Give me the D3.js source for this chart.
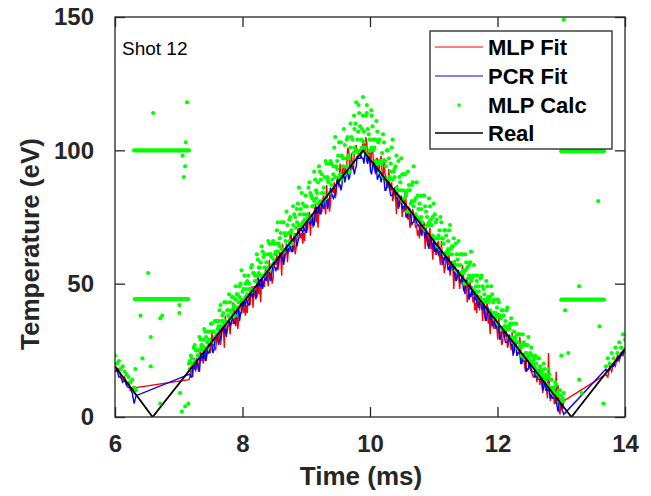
<!DOCTYPE html>
<html>
<head>
<meta charset="utf-8">
<script src="https://cdn.jsdelivr.net/npm/d3@7"></script>
<style>
  body { margin: 0; background: #fff; }
  svg { display: block; }
</style>
</head>
<body>
<svg id="chart" width="651" height="496"></svg>
<script>
// ---- data ----
const xTicks = [6, 8, 10, 12, 14];
const yTicks = [0, 50, 100, 150];
const legendLabels = ["MLP Fit", "PCR Fit", "MLP Calc", "Real"];

// "Real" temperature ramp (vertices)
const realTime = [6, 6.59, 9.89, 13.16, 14];
const realTemp = [19, 0, 100, 0, 25.7];

// first set of samples (fits + MLP calculation)
const sampleTime = [
  6.00, 6.03, 6.06, 6.09, 6.12, 6.15, 6.18, 6.21, 6.24, 6.27, 6.30, 6.33,
  7.16, 7.19, 7.22, 7.25, 7.28, 7.31, 7.34, 7.37, 7.40, 7.43,
  7.46, 7.49, 7.52, 7.55, 7.58, 7.61, 7.64, 7.67, 7.70, 7.73,
  7.76, 7.79, 7.82, 7.85, 7.88, 7.91, 7.94, 7.97, 8.00, 8.03,
  8.06, 8.09, 8.12, 8.15, 8.18, 8.21, 8.24, 8.27, 8.30, 8.33,
  8.36, 8.39, 8.42, 8.45, 8.48, 8.51, 8.54, 8.57, 8.60, 8.63,
  8.66, 8.69, 8.72, 8.75, 8.78, 8.81, 8.84, 8.87, 8.90, 8.93,
  8.96, 8.99, 9.02, 9.05, 9.08, 9.11, 9.14, 9.17, 9.20, 9.23,
  9.26, 9.29, 9.32, 9.35, 9.38, 9.41, 9.44, 9.47, 9.50, 9.53,
  9.56, 9.59, 9.62, 9.65, 9.68, 9.71, 9.74, 9.77, 9.80, 9.83,
  9.86, 9.89, 9.92, 9.95, 9.98, 10.01, 10.04, 10.07, 10.10, 10.13,
  10.16, 10.19, 10.22, 10.25, 10.28, 10.31, 10.34, 10.37, 10.40, 10.43,
  10.46, 10.49, 10.52, 10.55, 10.58, 10.61, 10.64, 10.67, 10.70, 10.73,
  10.76, 10.79, 10.82, 10.85, 10.88, 10.91, 10.94, 10.97, 11.00, 11.03,
  11.06, 11.09, 11.12, 11.15, 11.18, 11.21, 11.24, 11.27, 11.30, 11.33,
  11.36, 11.39, 11.42, 11.45, 11.48, 11.51, 11.54, 11.57, 11.60, 11.63,
  11.66, 11.69, 11.72, 11.75, 11.78, 11.81, 11.84, 11.87, 11.90, 11.93,
  11.96, 11.99, 12.02, 12.05, 12.08, 12.11, 12.14, 12.17, 12.20, 12.23,
  12.26, 12.29, 12.32, 12.35, 12.38, 12.41, 12.44, 12.47, 12.50, 12.53,
  12.56, 12.59, 12.62, 12.65, 12.68, 12.71, 12.74, 12.77, 12.80, 12.83,
  12.86, 12.89, 12.92, 12.95, 12.98, 13.01, 13.04,
  13.70, 13.73, 13.76, 13.79, 13.82, 13.85, 13.88, 13.91, 13.94, 13.97, 14.00
];

const mlpFit = [
  18, 17, 18, 15, 14, 15, 12, 13, 10, 11, 9, 11,
  14, 19, 15, 22, 20, 17, 26, 22, 25, 21,
  27, 24, 32, 27, 25, 31, 34, 30, 33, 38,
  32, 36, 35, 43, 36, 41, 36, 44, 42, 42,
  42, 46, 42, 49, 47, 44, 53, 49, 52, 49,
  55, 52, 59, 54, 52, 58, 61, 57, 60, 65,
  59, 64, 63, 70, 63, 68, 63, 71, 69, 69,
  69, 74, 70, 77, 74, 71, 80, 76, 79, 76,
  82, 79, 87, 82, 80, 85, 88, 84, 90, 95,
  89, 94, 93, 101, 94, 99, 93, 101, 99, 99,
  99, 104, 98, 103, 99, 94, 101, 96, 97, 92,
  96, 91, 97, 90, 86, 87, 88, 82, 83, 87,
  79, 82, 79, 85, 76, 79, 72, 78, 74, 72,
  70, 74, 68, 73, 69, 64, 71, 65, 66, 61,
  65, 60, 66, 60, 56, 60, 61, 55, 56, 59,
  51, 54, 51, 57, 48, 52, 45, 51, 47, 45,
  43, 46, 40, 45, 41, 36, 43, 38, 39, 34,
  38, 33, 39, 32, 28, 32, 33, 27, 28, 32,
  24, 27, 24, 30, 21, 24, 17, 23, 19, 17,
  15, 19, 13, 18, 14, 9, 16, 10, 24, 6,
  10, 5, 17, 12, 1, 5, 6,
  16, 15, 19, 17, 20, 19, 23, 21, 24, 23, 26
];

const pcrFit = [
  17, 18, 15, 15, 13, 14, 12, 11, 11, 9, 5, 8,
  16, 15, 19, 18, 22, 18, 22, 22, 25, 22,
  24, 27, 27, 25, 31, 29, 29, 32, 34, 33,
  33, 37, 35, 37, 35, 40, 39, 39, 44, 43,
  44, 42, 46, 45, 49, 45, 49, 49, 52, 50,
  52, 55, 54, 52, 58, 56, 56, 59, 61, 60,
  60, 65, 63, 64, 62, 67, 66, 66, 71, 70,
  71, 70, 74, 73, 76, 72, 76, 76, 79, 77,
  79, 82, 82, 80, 86, 83, 83, 86, 88, 87,
  87, 92, 90, 92, 90, 95, 93, 93, 98, 97,
  98, 97, 99, 96, 98, 92, 94, 93, 94, 90,
  90, 91, 89, 85, 89, 85, 83, 84, 84, 82,
  80, 83, 79, 79, 75, 78, 75, 73, 76, 73,
  72, 70, 72, 69, 71, 65, 67, 65, 66, 62,
  62, 63, 61, 58, 62, 58, 56, 57, 57, 54,
  52, 55, 51, 51, 47, 51, 48, 46, 49, 46,
  45, 42, 44, 41, 43, 37, 39, 38, 39, 35,
  35, 36, 34, 30, 34, 30, 28, 29, 29, 27,
  25, 28, 24, 24, 20, 23, 20, 18, 21, 18,
  17, 15, 17, 14, 16, 10, 12, 10, 11, 7,
  7, 8, 6, 2, 7, 3, 1,
  18, 17, 18, 19, 19, 21, 21, 22, 23, 24, 25
];

const mlpCalc = [
  23, 20, 21, 18, 19, 17, 16, 15, 13, 14, 11, 10,
  20, 23, 20, 27, 25, 23, 29, 27, 33, 30,
  26, 32, 35, 32, 36, 33, 40, 36, 39, 36,
  40, 46, 40, 45, 38, 46, 43, 50, 47, 53,
  48, 53, 48, 57, 54, 51, 59, 56, 64, 60,
  54, 61, 65, 60, 66, 61, 70, 65, 69, 63,
  69, 77, 69, 75, 65, 76, 71, 80, 76, 84,
  76, 83, 75, 88, 83, 79, 89, 84, 94, 89,
  81, 90, 95, 88, 96, 89, 101, 94, 98, 91,
  98, 108, 97, 105, 92, 105, 99, 110, 104, 114,
  104, 113, 101, 114, 106, 100, 109, 101, 111, 103,
  92, 99, 103, 94, 100, 90, 101, 92, 94, 85,
  90, 97, 85, 91, 77, 87, 80, 88, 81, 88,
  78, 83, 73, 83, 77, 72, 79, 72, 80, 73,
  64, 70, 73, 65, 70, 62, 70, 63, 64, 57,
  61, 66, 57, 61, 50, 58, 52, 58, 52, 57,
  49, 53, 45, 53, 48, 43, 49, 44, 49, 43,
  37, 41, 43, 37, 40, 34, 40, 34, 35, 29,
  32, 35, 28, 31, 23, 28, 24, 27, 23, 26,
  21, 23, 17, 22, 18, 15, 18, 15, 18, 14,
  9, 11, 12, 8, 10, 6, 9,
  19, 22, 20, 24, 22, 26, 24, 28, 26, 31, 29
];

// second, interleaved set of samples on the ramps
const sampleTimeB = [
  7.175, 7.205, 7.235, 7.265, 7.295, 7.325, 7.355, 7.385, 7.415, 7.445,
  7.475, 7.505, 7.535, 7.565, 7.595, 7.625, 7.655, 7.685, 7.715, 7.745,
  7.775, 7.805, 7.835, 7.865, 7.895, 7.925, 7.955, 7.985, 8.015, 8.045,
  8.075, 8.105, 8.135, 8.165, 8.195, 8.225, 8.255, 8.285, 8.315, 8.345,
  8.375, 8.405, 8.435, 8.465, 8.495, 8.525, 8.555, 8.585, 8.615, 8.645,
  8.675, 8.705, 8.735, 8.765, 8.795, 8.825, 8.855, 8.885, 8.915, 8.945,
  8.975, 9.005, 9.035, 9.065, 9.095, 9.125, 9.155, 9.185, 9.215, 9.245,
  9.275, 9.305, 9.335, 9.365, 9.395, 9.425, 9.455, 9.485, 9.515, 9.545,
  9.575, 9.605, 9.635, 9.665, 9.695, 9.725, 9.755, 9.785, 9.815, 9.845,
  9.875, 9.905, 9.935, 9.965, 9.995, 10.025, 10.055, 10.085, 10.115, 10.145,
  10.175, 10.205, 10.235, 10.265, 10.295, 10.325, 10.355, 10.385, 10.415, 10.445,
  10.475, 10.505, 10.535, 10.565, 10.595, 10.625, 10.655, 10.685, 10.715, 10.745,
  10.775, 10.805, 10.835, 10.865, 10.895, 10.925, 10.955, 10.985, 11.015, 11.045,
  11.075, 11.105, 11.135, 11.165, 11.195, 11.225, 11.255, 11.285, 11.315, 11.345,
  11.375, 11.405, 11.435, 11.465, 11.495, 11.525, 11.555, 11.585, 11.615, 11.645,
  11.675, 11.705, 11.735, 11.765, 11.795, 11.825, 11.855, 11.885, 11.915, 11.945,
  11.975, 12.005, 12.035, 12.065, 12.095, 12.125, 12.155, 12.185, 12.215, 12.245,
  12.275, 12.305, 12.335, 12.365, 12.395, 12.425, 12.455, 12.485, 12.515, 12.545,
  12.575, 12.605, 12.635, 12.665, 12.695, 12.725, 12.755, 12.785, 12.815, 12.845,
  12.875, 12.905, 12.935, 12.965, 12.995, 13.025
];

const mlpFitB = [
  15, 18, 20, 17, 20, 22, 21, 20, 25, 24,
  28, 25, 27, 26, 30, 29, 27, 34, 26, 31,
  35, 31, 35, 41, 34, 33, 39, 42, 39, 38,
  39, 44, 48, 41, 46, 50, 46, 43, 51, 49,
  56, 49, 53, 50, 58, 57, 55, 62, 53, 58,
  62, 58, 62, 68, 62, 61, 67, 69, 67, 65,
  66, 71, 75, 68, 73, 77, 73, 71, 79, 77,
  83, 76, 80, 77, 85, 84, 82, 89, 86, 91,
  94, 90, 94, 100, 94, 93, 99, 102, 99, 98,
  99, 103, 105, 96, 99, 101, 95, 91, 97, 93,
  98, 89, 91, 86, 93, 85, 81, 86, 76, 79,
  81, 75, 77, 81, 74, 71, 75, 76, 71, 68,
  67, 70, 72, 63, 66, 68, 63, 59, 65, 61,
  66, 57, 59, 54, 60, 57, 53, 58, 48, 52,
  54, 48, 50, 54, 46, 43, 47, 48, 43, 40,
  39, 43, 45, 36, 39, 41, 35, 31, 37, 33,
  38, 29, 31, 27, 33, 30, 26, 30, 25, 26,
  27, 23, 24, 25, 21, 19, 21, 21, 18, 16,
  15, 16, 17, 12, 13, 13, 10, 7, 10, 8,
  10, 5, 5, 2, 5, 3
];

const pcrFitB = [
  16, 15, 20, 18, 20, 17, 24, 22, 21, 25,
  24, 28, 24, 28, 30, 27, 29, 34, 32, 30,
  36, 34, 37, 35, 37, 41, 36, 39, 42, 42,
  43, 42, 47, 45, 48, 45, 52, 49, 48, 52,
  51, 55, 51, 55, 57, 55, 57, 61, 59, 57,
  63, 61, 64, 62, 65, 69, 64, 67, 70, 69,
  70, 69, 74, 72, 75, 72, 79, 77, 76, 80,
  78, 82, 78, 82, 84, 82, 84, 89, 87, 85,
  90, 88, 91, 89, 92, 96, 91, 94, 97, 97,
  97, 95, 99, 95, 96, 91, 96, 92, 89, 91,
  88, 90, 85, 87, 87, 83, 83, 86, 82, 78,
  82, 78, 79, 75, 77, 78, 72, 73, 74, 72,
  71, 68, 71, 67, 68, 63, 68, 64, 62, 64,
  61, 63, 57, 59, 59, 55, 55, 58, 54, 51,
  55, 51, 52, 48, 49, 51, 44, 45, 46, 44,
  43, 41, 44, 40, 41, 36, 41, 37, 34, 36,
  33, 35, 29, 31, 32, 28, 28, 31, 27, 23,
  27, 23, 24, 20, 21, 23, 17, 18, 19, 17,
  17, 15, 16, 14, 14, 11, 13, 10, 9, 9,
  7, 8, 4, 5, 5, 2
];

const mlpCalcB = [
  18, 22, 20, 25, 23, 25, 27, 25, 32, 28,
  29, 28, 32, 36, 31, 36, 34, 36, 43, 35,
  38, 43, 39, 42, 44, 41, 49, 44, 48, 45,
  46, 50, 47, 54, 51, 53, 56, 53, 62, 56,
  58, 55, 61, 65, 59, 65, 62, 64, 73, 62,
  66, 72, 66, 70, 72, 68, 78, 72, 78, 73,
  74, 79, 74, 84, 79, 81, 85, 80, 92, 84,
  86, 82, 89, 95, 87, 94, 90, 93, 103, 89,
  94, 102, 94, 98, 101, 95, 108, 100, 107, 100,
  101, 107, 99, 108, 100, 101, 104, 96, 107, 96,
  96, 90, 96, 100, 89, 95, 89, 90, 98, 83,
  85, 91, 82, 84, 85, 77, 87, 79, 82, 75,
  74, 78, 71, 79, 72, 73, 74, 68, 76, 67,
  68, 63, 67, 70, 61, 66, 61, 61, 67, 55,
  57, 61, 54, 55, 55, 50, 57, 51, 53, 47,
  47, 49, 44, 49, 44, 44, 45, 40, 46, 39,
  39, 35, 38, 40, 33, 36, 33, 33, 37, 28,
  29, 31, 26, 27, 27, 22, 27, 22, 24, 20,
  19, 20, 16, 19, 16, 15, 16, 12, 16, 11,
  11, 8, 9, 10, 6, 7
];

const mlpCalcC = [
  21, 20, 26, 21, 25, 30, 26, 29, 26, 32,
  29, 35, 32, 30, 36, 34, 42, 38, 35, 43,
  40, 37, 45, 41, 49, 46, 45, 55, 44, 50,
  51, 48, 56, 48, 53, 61, 54, 58, 53, 61,
  56, 66, 61, 57, 65, 62, 73, 67, 63, 73,
  68, 64, 74, 69, 79, 75, 73, 86, 72, 80,
  79, 76, 86, 75, 82, 92, 82, 88, 81, 91,
  84, 96, 90, 84, 95, 91, 105, 96, 90, 103,
  97, 91, 104, 97, 110, 104, 101, 118, 99, 109,
  108, 103, 113, 98, 104, 113, 100, 104, 95, 104,
  95, 106, 96, 89, 97, 92, 104, 93, 86, 96,
  88, 81, 91, 83, 92, 85, 81, 94, 76, 83,
  80, 75, 83, 70, 75, 82, 72, 75, 67, 74,
  67, 75, 67, 61, 68, 63, 72, 64, 58, 65,
  59, 54, 61, 54, 61, 56, 53, 62, 48, 53,
  51, 47, 52, 43, 46, 51, 43, 45, 39, 44,
  38, 44, 38, 33, 38, 34, 41, 34, 30, 35,
  30, 26, 31, 26, 31, 27, 24, 30, 21, 23,
  22, 18, 22, 15, 17, 20, 14, 15, 11, 14,
  10, 13, 9, 6, 8, 6
];

// stray MLP Calc points
const strayTime = [
  6.60, 7.13, 7.11, 7.06, 7.10, 7.08, 6.52, 6.40, 6.71, 6.74, 7.01, 7.01,
  6.56, 6.43, 6.56, 6.32, 6.71, 7.05, 7.10, 7.15, 7.02,
  9.89, 9.82, 9.95, 10.02, 9.75,
  13.28, 13.06, 13.60, 13.11, 13.00, 13.28, 13.32, 13.66, 13.58, 13.04
];
const strayTemp = [
  114, 118, 103, 98, 94, 90, 54, 38, 37, 38, 42, 39,
  30, 22, 19, 18, 5, 2, 4, 5, 9,
  120, 117, 117, 115, 113,
  49, 40, 34, 24, 23, 14, 9, 5, 81, 149
];

// flat runs of MLP Calc points
const plateauStart = [6.30, 6.31, 13.00, 13.00];
const plateauEnd = [7.16, 7.15, 13.67, 13.67];
const plateauTemp = [100, 44.2, 99.7, 44];

// ---- drawing ----
const colors = { mlpFit: "#ff0000", pcrFit: "#0000ff", calc: "#00ff00", real: "#000000" };
const axisColor = "#262626";
const font = "'Liberation Sans', Arial, Helvetica, sans-serif";

const x = d3.scaleLinear().domain([6, 14]).range([115, 625]);
const y = d3.scaleLinear().domain([0, 150]).range([417, 17]);

const svg = d3.select("#chart");

svg.append("defs").append("clipPath").attr("id", "clip")
  .append("rect")
  .attr("x", x(6)).attr("y", y(150))
  .attr("width", x(14) - x(6)).attr("height", y(0) - y(150));

const plot = svg.append("g").attr("clip-path", "url(#clip)");
const line = d3.line().x(d => x(d[0])).y(d => y(d[1]));
const pairs = (times, vals) => times.map((t, i) => [t, vals[i]]);
const merged = (a, b) => d3.sort(pairs(sampleTime, a).concat(pairs(sampleTimeB, b)), d => d[0]);

plot.append("path")
  .datum(merged(mlpFit, mlpFitB))
  .attr("d", line)
  .attr("fill", "none")
  .attr("stroke", colors.mlpFit)
  .attr("stroke-width", 1.4);

plot.append("path")
  .datum(merged(pcrFit, pcrFitB))
  .attr("d", line)
  .attr("fill", "none")
  .attr("stroke", colors.pcrFit)
  .attr("stroke-width", 1.4);

plot.selectAll(".plateau")
  .data(plateauTemp)
  .enter()
  .append("line")
  .attr("class", "plateau")
  .attr("x1", (d, i) => x(plateauStart[i]))
  .attr("x2", (d, i) => x(plateauEnd[i]))
  .attr("y1", d => y(d))
  .attr("y2", d => y(d))
  .attr("stroke", colors.calc)
  .attr("stroke-width", 4.2)
  .attr("stroke-linecap", "round");

const calcPoints = pairs(sampleTime, mlpCalc)
  .concat(pairs(sampleTimeB, mlpCalcB))
  .concat(pairs(sampleTimeB, mlpCalcC))
  .concat(pairs(strayTime, strayTemp));

plot.selectAll(".calc")
  .data(calcPoints)
  .enter()
  .append("circle")
  .attr("class", "calc")
  .attr("cx", d => x(d[0]))
  .attr("cy", d => y(d[1]))
  .attr("r", 2.1)
  .attr("fill", colors.calc);

plot.append("path")
  .datum(pairs(realTime, realTemp))
  .attr("d", line)
  .attr("fill", "none")
  .attr("stroke", colors.real)
  .attr("stroke-width", 1.8);

// axes with inward ticks on all four sides
function styleAxis(g) {
  g.select(".domain").remove();
  g.selectAll(".tick line").attr("stroke", axisColor).attr("stroke-width", 1.3);
  g.selectAll(".tick text")
    .attr("fill", axisColor)
    .style("font-family", font)
    .style("font-size", "24px")
    .style("font-weight", "bold");
}

svg.append("g")
  .attr("transform", `translate(0,${y(0)})`)
  .call(d3.axisBottom(x).tickValues(xTicks).tickSize(-10).tickPadding(18).tickFormat(d3.format("d")))
  .call(styleAxis);
svg.append("g")
  .attr("transform", `translate(0,${y(150)})`)
  .call(d3.axisTop(x).tickValues(xTicks).tickSize(-10).tickFormat(""))
  .call(styleAxis);
svg.append("g")
  .attr("transform", `translate(${x(6)},0)`)
  .call(d3.axisLeft(y).tickValues(yTicks).tickSize(-10).tickPadding(21).tickFormat(d3.format("d")))
  .call(styleAxis);
svg.append("g")
  .attr("transform", `translate(${x(14)},0)`)
  .call(d3.axisRight(y).tickValues(yTicks).tickSize(-10).tickFormat(""))
  .call(styleAxis);

svg.append("rect")
  .attr("x", x(6)).attr("y", y(150))
  .attr("width", x(14) - x(6)).attr("height", y(0) - y(150))
  .attr("fill", "none")
  .attr("stroke", axisColor)
  .attr("stroke-width", 1.3);

svg.append("text")
  .attr("x", 361).attr("y", 485)
  .attr("text-anchor", "middle")
  .attr("fill", axisColor)
  .style("font-family", font).style("font-size", "26px").style("font-weight", "bold")
  .text("Time (ms)");

svg.append("text")
  .attr("transform", "translate(39,244) rotate(-90)")
  .attr("text-anchor", "middle")
  .attr("fill", axisColor)
  .style("font-family", font).style("font-size", "26px").style("font-weight", "bold")
  .text("Temperature (eV)");

svg.append("text")
  .attr("x", 122).attr("y", 55)
  .attr("fill", "#000")
  .style("font-family", font).style("font-size", "19px")
  .text("Shot 12");

// legend
const legend = svg.append("g");
legend.append("rect")
  .attr("x", 430).attr("y", 31).attr("width", 182).attr("height", 118)
  .attr("fill", "#fff").attr("stroke", axisColor).attr("stroke-width", 1.3);

const legendColors = [colors.mlpFit, colors.pcrFit, colors.calc, colors.real];
const rowY = [47, 76, 105, 133];
const rows = legend.selectAll(".row")
  .data(legendLabels)
  .enter()
  .append("g")
  .attr("class", "row")
  .attr("transform", (d, i) => `translate(0,${rowY[i]})`);

rows.filter((d, i) => i !== 2)
  .append("line")
  .attr("x1", 435).attr("x2", 483)
  .attr("stroke", d => legendColors[legendLabels.indexOf(d)])
  .attr("stroke-width", d => d === "Real" ? 1.5 : 1);

rows.filter((d, i) => i === 2)
  .append("circle")
  .attr("cx", 459).attr("r", 1.8)
  .attr("fill", colors.calc);

rows.append("text")
  .attr("x", 488).attr("dy", "0.36em")
  .attr("fill", "#000")
  .style("font-family", font).style("font-size", "22px").style("font-weight", "bold")
  .text(d => d);
</script>
</body>
</html>
